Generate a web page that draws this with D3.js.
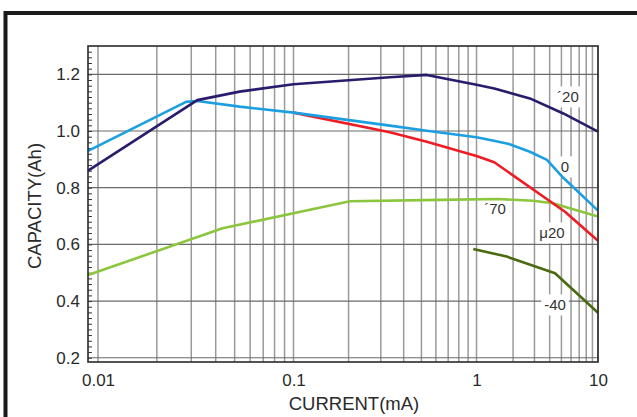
<!DOCTYPE html>
<html>
<head>
<meta charset="utf-8">
<script src="https://cdn.jsdelivr.net/npm/d3@7"></script>
<style>
  body { margin: 0; background: #fff; }
  text { font-family: "Liberation Sans", Arial, sans-serif; fill: #2a2a2a; }
</style>
</head>
<body>
<svg id="chart" width="637" height="417"></svg>
<script>
// values (current in mA, capacity in Ah)
const currentTicks = [0.01, 0.1, 1, 10];
const currentLabels = ["0.01", "0.1", "1", "10"];
const capacityTicks = [0.2, 0.4, 0.6, 0.8, 1.0, 1.2];
const capacityLabels = ["0.2", "0.4", "0.6", "0.8", "1.0", "1.2"];

const curvePlus20 = [[0.0089, 0.86], [0.0322, 1.109], [0.053, 1.139], [0.1, 1.165], [0.336, 1.19],
  [0.535, 1.198], [1.0, 1.163], [1.4, 1.15], [2.75, 1.115], [5.18, 1.062], [10, 0.998]];
const curveZero = [[0.0089, 0.93], [0.0282, 1.103], [0.0322, 1.106], [0.053, 1.086], [0.1, 1.065],
  [0.336, 1.019], [0.535, 1.001], [1.0, 0.978], [1.39, 0.966], [1.85, 0.954], [2.75, 0.927],
  [3.8, 0.898], [5.18, 0.835], [10, 0.719]];
const curveMinus20 = [[0.1, 1.065], [0.336, 0.996], [0.535, 0.962], [1.0, 0.912], [1.4, 0.89],
  [5.35, 0.715], [10, 0.613]];
const curvePlus70 = [[0.0089, 0.492], [0.0434, 0.657], [0.2035, 0.752], [0.632, 0.757], [1.5, 0.76],
  [2.92, 0.754], [4.26, 0.745], [6.23, 0.724], [10, 0.698]];
const curveMinus40 = [[0.96, 0.584], [1.77, 0.557], [4.43, 0.498], [10, 0.359]];

const seriesNames = ["´20", "0", "´70", "μ20", "-40"];

const svg = d3.select("#chart");

// outer frame of the scanned figure
svg.append("rect")
  .attr("x", 5.5).attr("y", 13).attr("width", 700).attr("height", 500)
  .attr("fill", "none").attr("stroke", "#1a1a1a").attr("stroke-width", 4);

const m = { left: 88, right: 598, top: 46, bottom: 362 };

// the scanned axis is not evenly spaced per decade, so the log scale is piecewise
const x = d3.scaleLog()
  .domain([0.01, 0.1, 1, 10])
  .range([98, 293.5, 476.5, 598]);
const y = d3.scaleLinear().domain([0.185, 1.3]).range([m.bottom, m.top]);

const grid = svg.append("g");

// vertical grid
grid.selectAll(".vgrid")
  .data(x.ticks())
  .join("line")
  .attr("class", "vgrid")
  .attr("x1", d => x(d)).attr("x2", d => x(d))
  .attr("y1", m.top).attr("y2", m.bottom)
  .attr("stroke", "#9a9a9a").attr("stroke-width", 1.5);

// horizontal grid
grid.selectAll(".hgrid")
  .data(capacityTicks)
  .join("line")
  .attr("class", "hgrid")
  .attr("x1", m.left).attr("x2", m.right)
  .attr("y1", d => y(d)).attr("y2", d => y(d))
  .attr("stroke", "#6a6a6a").attr("stroke-width", 1.2);

// minor ticks on the left edge
svg.append("g")
  .attr("transform", `translate(${m.left},0)`)
  .call(d3.axisRight(y).tickValues(d3.range(0.2, 1.29, 0.02)).tickSize(4).tickFormat(""))
  .call(g => g.select(".domain").remove())
  .call(g => g.selectAll("line").attr("stroke", "#333").attr("stroke-width", 1));

// curve labels, anchored in data units; their white boxes only mask the grid
const labelAt = [[5.66, 1.12], [5.35, 0.873], [1.42, 0.728], [4.18, 0.64], [4.43, 0.386]];
const lab = svg.append("g").selectAll("g")
  .data(seriesNames.map((n, i) => ({ name: n, at: labelAt[i] })))
  .join("g")
  .attr("transform", d => `translate(${x(d.at[0])},${y(d.at[1])})`);
lab.append("text")
  .attr("text-anchor", "middle")
  .attr("dy", "0.36em")
  .style("font-size", "15px")
  .style("fill", "#333")
  .text(d => d.name)
  .each(function() {
    const b = this.getBBox();
    d3.select(this.parentNode).insert("rect", "text")
      .attr("x", b.x - 3).attr("y", b.y - 2)
      .attr("width", b.width + 6).attr("height", b.height + 4)
      .attr("fill", "#fff");
  });

// curves
const line = d3.line().x(d => x(d[0])).y(d => y(d[1]));
const curves = [
  { data: curvePlus70, color: "#8cc63e" },
  { data: curveMinus40, color: "#4a6a10" },
  { data: curveMinus20, color: "#ee1c25" },
  { data: curveZero, color: "#1c9fe0" },
  { data: curvePlus20, color: "#2b1b6c" }
];
svg.append("g").selectAll("path")
  .data(curves)
  .join("path")
  .attr("d", d => line(d.data))
  .attr("fill", "none")
  .attr("stroke", d => d.color)
  .attr("stroke-width", 2.6)
  .attr("stroke-linejoin", "round");

// plot border
svg.append("rect")
  .attr("x", m.left).attr("y", m.top)
  .attr("width", m.right - m.left).attr("height", m.bottom - m.top)
  .attr("fill", "none").attr("stroke", "#2a2a2a").attr("stroke-width", 1.6);

// tick labels
svg.append("g")
  .attr("transform", `translate(${m.left},0)`)
  .call(d3.axisLeft(y).tickValues(capacityTicks).tickSize(0).tickPadding(8)
    .tickFormat((d, i) => capacityLabels[i]))
  .call(g => g.select(".domain").remove())
  .call(g => g.selectAll("text").style("font-size", "17px").attr("fill", "#2a2a2a"));

svg.append("g")
  .attr("transform", `translate(0,${m.bottom})`)
  .call(d3.axisBottom(x).tickValues(currentTicks).tickSize(0).tickPadding(12)
    .tickFormat((d, i) => currentLabels[i]))
  .call(g => g.select(".domain").remove())
  .call(g => g.selectAll("text").style("font-size", "17px").attr("fill", "#2a2a2a"));

// axis titles
svg.append("text")
  .attr("x", 354).attr("y", 410)
  .attr("text-anchor", "middle")
  .style("font-size", "18.5px")
  .text("CURRENT(mA)");

svg.append("text")
  .attr("transform", "translate(34,206) rotate(-90)")
  .attr("text-anchor", "middle")
  .attr("dy", "0.36em")
  .style("font-size", "18.5px")
  .text("CAPACITY(Ah)");
</script>
</body>
</html>
